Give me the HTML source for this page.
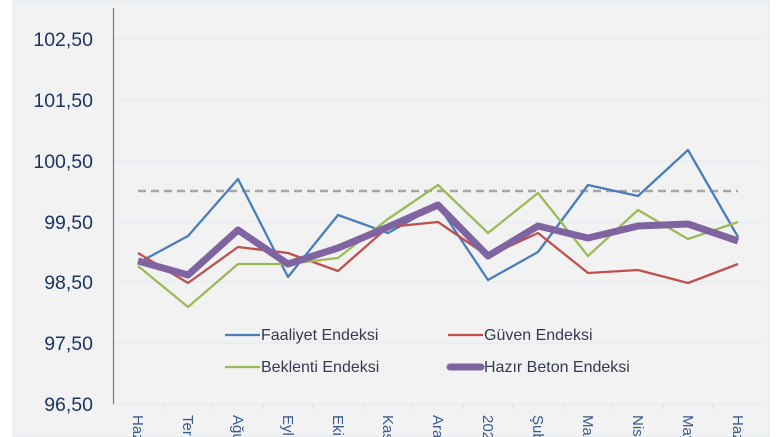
<!DOCTYPE html>
<html><head><meta charset="utf-8"><style>
html,body{margin:0;padding:0;background:#fff;}
svg{display:block;font-family:"Liberation Sans",sans-serif;}
</style></head><body>
<svg width="777" height="437" viewBox="0 0 777 437" xmlns="http://www.w3.org/2000/svg">
<rect x="13" y="0" width="756" height="437" fill="#f2f2f2" stroke="#dce6f0" stroke-width="1"/>
<g stroke="#e2e8f0" stroke-width="1">
<line x1="113" y1="39" x2="763" y2="39"/>
<line x1="113" y1="100" x2="763" y2="100"/>
<line x1="113" y1="161" x2="763" y2="161"/>
<line x1="113" y1="222" x2="763" y2="222"/>
<line x1="113" y1="282" x2="763" y2="282"/>
<line x1="113" y1="343" x2="763" y2="343"/>
<line x1="113" y1="404" x2="763" y2="404"/>
</g>
<g stroke="#d9e2ec" stroke-width="1">
<line x1="163" y1="404" x2="163" y2="410"/><line x1="213" y1="404" x2="213" y2="410"/>
<line x1="263" y1="404" x2="263" y2="410"/><line x1="313" y1="404" x2="313" y2="410"/>
<line x1="363" y1="404" x2="363" y2="410"/><line x1="413" y1="404" x2="413" y2="410"/>
<line x1="463" y1="404" x2="463" y2="410"/><line x1="513" y1="404" x2="513" y2="410"/>
<line x1="563" y1="404" x2="563" y2="410"/><line x1="613" y1="404" x2="613" y2="410"/>
<line x1="663" y1="404" x2="663" y2="410"/><line x1="713" y1="404" x2="713" y2="410"/>
</g>
<line x1="113.5" y1="8" x2="113.5" y2="404" stroke="#4f7fbf" stroke-width="1.2"/>
<g fill="#1a3563" font-size="19.5" text-anchor="end">
<text x="93" y="46">102,50</text>
<text x="93" y="107">101,50</text>
<text x="93" y="168">100,50</text>
<text x="93" y="229">99,50</text>
<text x="93" y="289">98,50</text>
<text x="93" y="350">97,50</text>
<text x="93" y="411">96,50</text>
</g>
<g fill="#3a5a8c" font-size="15">
<text transform="translate(133,415) rotate(90)">Haz</text>
<text transform="translate(183,415) rotate(90)">Ter</text>
<text transform="translate(233,415) rotate(90)">Ağu</text>
<text transform="translate(283,415) rotate(90)">Eyl</text>
<text transform="translate(333,415) rotate(90)">Eki</text>
<text transform="translate(383,415) rotate(90)">Kas</text>
<text transform="translate(433,415) rotate(90)">Ara</text>
<text transform="translate(483,415) rotate(90)">202</text>
<text transform="translate(533,415) rotate(90)">Şub</text>
<text transform="translate(583,415) rotate(90)">Mar</text>
<text transform="translate(633,415) rotate(90)">Nis</text>
<text transform="translate(683,415) rotate(90)">May</text>
<text transform="translate(733,415) rotate(90)">Haz</text>
</g>
<line x1="138" y1="191" x2="738" y2="191" stroke="#a6a6a6" stroke-width="2.5" stroke-dasharray="8,5"/>
<g fill="none" stroke-linejoin="round">
<polyline stroke="#4a7ebb" stroke-width="2.3" points="138,263 188,236 238,179 288,277 338,215 388,233 438,205 488,280 538,252 588,185 638,196 688,150 738,237"/>
<polyline stroke="#c0504d" stroke-width="2.3" points="138,253 188,283 238,247 288,253 338,271 388,227 438,222 488,256 538,233 588,273 638,270 688,283 738,264"/>
<polyline stroke="#9bbb59" stroke-width="2.3" points="138,266 188,307 238,264 288,264 338,258 388,219 438,185 488,233 538,193 588,256 638,210 688,239 738,222"/>
<polyline stroke="#8064a2" stroke-width="7" points="138,261 188,275 238,230 288,264 338,248 388,227 438,205 488,256 538,226 588,238 638,226 688,224 738,241"/>
</g>
<g font-size="16" fill="#353a52">
<line x1="225" y1="335" x2="260" y2="335" stroke="#4a7ebb" stroke-width="2.3"/>
<text x="261" y="340">Faaliyet Endeksi</text>
<line x1="448" y1="335" x2="483" y2="335" stroke="#c0504d" stroke-width="2.3"/>
<text x="484" y="340">Güven Endeksi</text>
<line x1="225" y1="367" x2="260" y2="367" stroke="#9bbb59" stroke-width="2.3"/>
<text x="261" y="372">Beklenti Endeksi</text>
<line x1="450" y1="367" x2="481" y2="367" stroke="#8064a2" stroke-width="7" stroke-linecap="round"/>
<text x="484" y="372">Hazır Beton Endeksi</text>
</g>
</svg>
</body></html>
